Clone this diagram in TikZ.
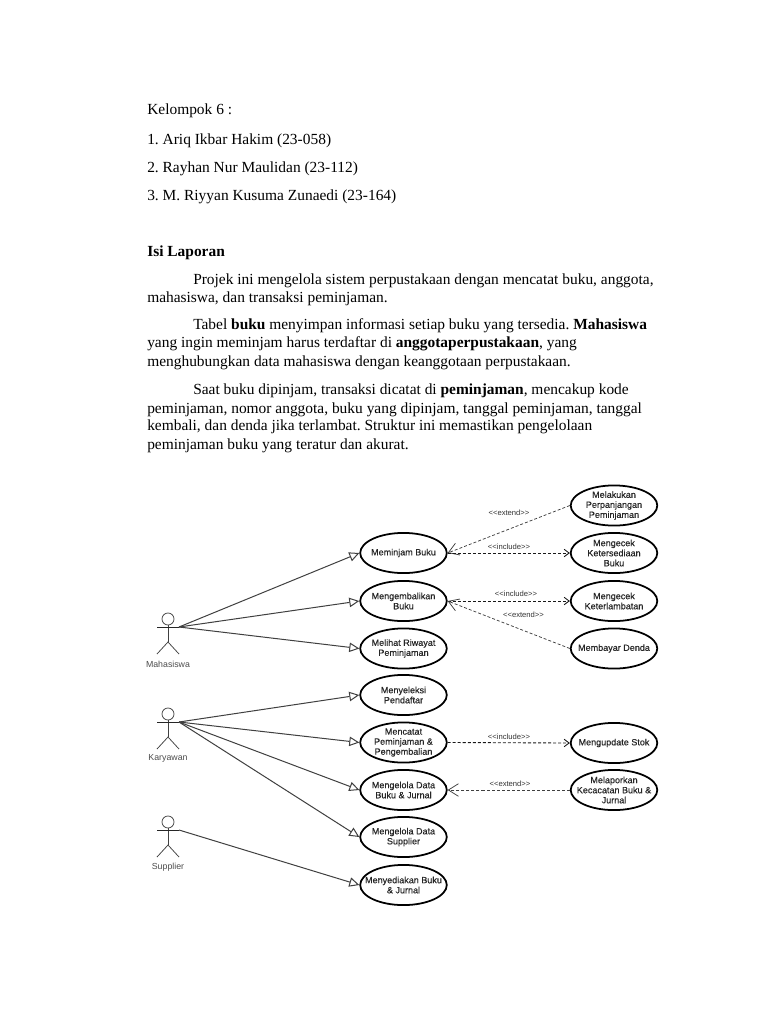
\documentclass[tikz,border=0pt]{standalone}
\usepackage{fontspec}
\setmainfont{Liberation Serif}
\setsansfont{Liberation Sans}
\newfontfamily\casefont[FakeBold=0.35]{Liberation Sans}
\usetikzlibrary{shapes.geometric,arrows.meta}
\frenchspacing

\begin{document}
\begin{tikzpicture}[x=0.796875pt, y=-0.796875pt,
	text_line/.style={anchor=base west,inner sep=0pt,font=\fontsize{12.3}{14}\selectfont},
	usecase_node/.style={ellipse,draw,line width=1.4pt,fill=white,minimum width=69pt,minimum height=32pt,inner xsep=-25pt,inner ysep=-10pt,align=center,font=\casefont\fontsize{7.2}{8}\selectfont,text=black!85},
	actor_label/.style={inner sep=0pt,font=\sffamily\fontsize{7}{8}\selectfont,text=black!70},
	stereo_label/.style={inner sep=0pt,font=\sffamily\fontsize{6.1}{7}\selectfont,text=black!80},
	generalize/.style={draw=black!75,line width=0.8pt,-{Triangle[open,length=8pt,width=7.5pt,fill=white]}},
	include_line/.style={draw=black!90,line width=0.7pt,dashed,dash pattern=on 2.4pt off 1.6pt,-{Straight Barb[length=4pt,width=6pt]}},
	extend_line/.style={draw=black!75,line width=0.6pt,dashed,dash pattern=on 2.4pt off 1.6pt,-{Straight Barb[length=8pt,width=10pt]}},
	actor_pic/.pic={
		\draw[black!75,line width=0.6pt] (0,-2) -- (0,15);
		\draw[black!85,line width=0.7pt] (-11,0) -- (11,0);
		\draw[black!75,line width=0.6pt] (-11,27) -- (0,15) -- (11,27);
		\draw[black!75,line width=0.6pt] (0,-8) circle (6);
	}]
	\useasboundingbox (0,0) rectangle (768,1024);
	\node[text_line](t1) at (147,115){Kelompok 6 :};
	\node[text_line](t2) at (147,144){1. Ariq Ikbar Hakim (23-058)};
	\node[text_line](t3) at (147,172){2. Rayhan Nur Maulidan (23-112)};
	\node[text_line](t4) at (147,200){3. M. Riyyan Kusuma Zunaedi (23-164)};
	\node[text_line](t5) at (147,256){\textbf{Isi Laporan}};
	\node[text_line](t6) at (193,284){Projek ini mengelola sistem perpustakaan dengan mencatat buku, anggota,};
	\node[text_line](t7) at (147,302){mahasiswa, dan transaksi peminjaman.};
	\node[text_line](t8) at (193,329){Tabel \textbf{buku} menyimpan informasi setiap buku yang tersedia. \textbf{Mahasiswa}};
	\node[text_line](t9) at (147,347){yang ingin meminjam harus terdaftar di \textbf{anggotaperpustakaan}, yang};
	\node[text_line](t10) at (147,366){menghubungkan data mahasiswa dengan keanggotaan perpustakaan.};
	\node[text_line](t11) at (193,394){Saat buku dipinjam, transaksi dicatat di \textbf{peminjaman}, mencakup kode};
	\node[text_line](t12) at (147,413){peminjaman, nomor anggota, buku yang dipinjam, tanggal peminjaman, tanggal};
	\node[text_line](t13) at (147,430){kembali, dan denda jika terlambat. Struktur ini memastikan pengelolaan};
	\node[text_line](t14) at (147,449){peminjaman buku yang teratur dan akurat.};

	\node[usecase_node](pinjam) at (403.5,553){Meminjam Buku};
	\node[usecase_node](kembali) at (403.5,601){Mengembalikan\\Buku};
	\node[usecase_node](riwayat) at (403.5,648.5){Melihat Riwayat\\Peminjaman};
	\node[usecase_node](seleksi) at (403.5,695){Menyeleksi\\Pendaftar};
	\node[usecase_node](catat) at (403.5,742.5){Mencatat\\Peminjaman \&\\Pengembalian};
	\node[usecase_node](kelola) at (403.5,790){Mengelola Data\\Buku \& Jurnal};
	\node[usecase_node](supplier) at (403.5,837){Mengelola Data\\Supplier};
	\node[usecase_node](sedia) at (403.5,885){Menyediakan Buku\\\& Jurnal};
	\node[usecase_node](panjang) at (614,505.5){Melakukan\\Perpanjangan\\Peminjaman};
	\node[usecase_node](sedialah) at (614,553){Mengecek\\Ketersediaan\\Buku};
	\node[usecase_node](lambat) at (614,601){Mengecek\\Keterlambatan};
	\node[usecase_node](denda) at (614,648.5){Membayar Denda};
	\node[usecase_node](stok) at (614,743){Mengupdate Stok};
	\node[usecase_node](cacat) at (614,790){Melaporkan\\Kecacatan Buku \&\\Jurnal};

	\pic at (168,627) {actor_pic};
	\pic at (168,722) {actor_pic};
	\pic at (168,830) {actor_pic};
	\coordinate (mahasiswa) at (179,627);
	\coordinate (karyawan) at (179,722);
	\coordinate (pemasok) at (179,830);
	\node[actor_label](l1) at (168,664){Mahasiswa};
	\node[actor_label](l2) at (168,758.5){Karyawan};
	\node[actor_label](l3) at (168,867){Supplier};

	\draw[generalize] (mahasiswa) -- (pinjam.west);
	\draw[generalize] (mahasiswa) -- (kembali.west);
	\draw[generalize] (mahasiswa) -- (riwayat.west);
	\draw[generalize] (karyawan) -- (seleksi.west);
	\draw[generalize] (karyawan) -- (catat.west);
	\draw[generalize] (karyawan) -- (kelola.west);
	\draw[generalize] (karyawan) -- (supplier.west);
	\draw[generalize] (pemasok) -- (sedia.west);

	\draw[extend_line] (panjang.west) -- (pinjam.east);
	\draw[include_line] (pinjam.east) -- (sedialah.west);
	\draw[include_line] (kembali.east) -- (lambat.west);
	\draw[extend_line] (denda.west) -- (kembali.east);
	\draw[include_line] (catat.east) -- (stok.west);
	\draw[extend_line] (cacat.west) -- (kelola.east);

	\node[stereo_label](s1) at (509,513){<{}<extend>{}>};
	\node[stereo_label](s2) at (509,547){<{}<include>{}>};
	\node[stereo_label](s3) at (516,594){<{}<include>{}>};
	\node[stereo_label](s4) at (523.5,614.5){<{}<extend>{}>};
	\node[stereo_label](s5) at (509,737){<{}<include>{}>};
	\node[stereo_label](s6) at (510,784){<{}<extend>{}>};
\end{tikzpicture}
\end{document}
